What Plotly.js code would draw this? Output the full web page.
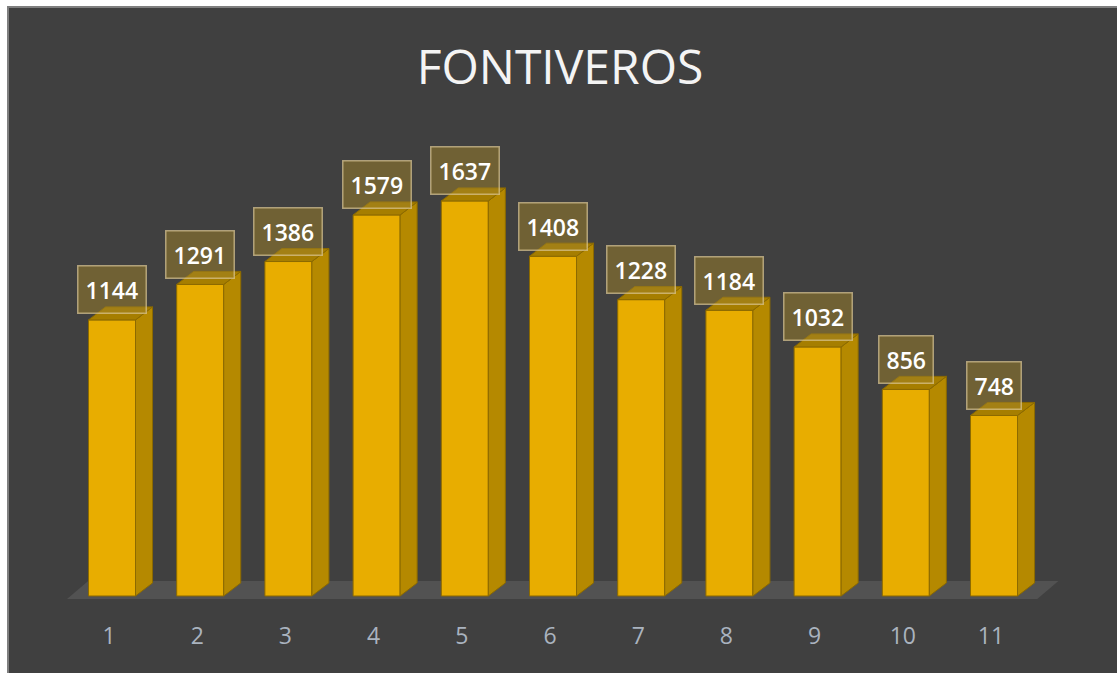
<!DOCTYPE html>
<html>
<head>
<meta charset="utf-8">
<script src="https://cdn.plot.ly/plotly-3.0.1.min.js"></script>
<style>
  html, body { margin: 0; padding: 0; background: #ffffff; width: 1117px; height: 673px; overflow: hidden; }
  #frame { position: absolute; left: 7px; top: 6px; width: 1110px; height: 667px; background: #7f7f7f; }
  #chart { position: absolute; left: 9px; top: 8px; width: 1108px; height: 665px; }
</style>
</head>
<body>
<div id="frame"></div>
<div id="chart"></div>
<script>
// ---- data ----
const categories = ["1", "2", "3", "4", "5", "6", "7", "8", "9", "10", "11"];
const values = [1144, 1291, 1386, 1579, 1637, 1408, 1228, 1184, 1032, 856, 748];
const chartTitle = "FONTIVEROS";

// ---- style ----
const FRONT = "#E8AD00";
const SIDE = "#B58900";
const TOP = "#A67E00";
const EDGE = "#8C6A00";
const BAR_W = 0.533;   // category units
const DEPTH_X = 0.193; // category units
const DEPTH_Y = 54;    // value units
const FONT = "Open Sans, Noto Sans, sans-serif";

const xs = categories.map((c, i) => i + 1);

const traces = [];
traces.push({
  type: "bar",
  x: xs,
  y: values,
  width: BAR_W,
  marker: { color: FRONT, line: { color: EDGE, width: 1 } },
  hoverinfo: "x+y",
  showlegend: false
});

xs.forEach((x, i) => {
  const v = values[i];
  const l = x - BAR_W / 2, r = x + BAR_W / 2;
  // side face
  traces.push({
    type: "scatter", mode: "lines", fill: "toself",
    x: [r, r + DEPTH_X, r + DEPTH_X, r, r],
    y: [0, DEPTH_Y, v + DEPTH_Y, v, 0],
    fillcolor: SIDE, line: { color: EDGE, width: 1 },
    hoverinfo: "skip", showlegend: false
  });
  // top face
  traces.push({
    type: "scatter", mode: "lines", fill: "toself",
    x: [l, r, r + DEPTH_X, l + DEPTH_X, l],
    y: [v, v, v + DEPTH_Y, v + DEPTH_Y, v],
    fillcolor: TOP, line: { color: EDGE, width: 1 },
    hoverinfo: "skip", showlegend: false
  });
});

const n = categories.length;
const annotations = xs.map((x, i) => ({
  x: x, y: values[i], xref: "x", yref: "y",
  text: String(values[i]),
  showarrow: false,
  yshift: 30,
  font: { family: FONT, size: 23, color: "#ffffff", weight: 600 },
  bgcolor: "rgba(160,130,40,0.5)",
  bordercolor: "rgba(220,200,150,0.7)",
  borderwidth: 1.5,
  borderpad: 7
}));

const layout = {
  width: 1108,
  height: 665,
  paper_bgcolor: "#404040",
  plot_bgcolor: "rgba(0,0,0,0)",
  margin: { l: 51, r: 57, t: 122, b: 53 },
  title: {
    text: chartTitle,
    x: 0.5, xref: "paper", xanchor: "center",
    y: 0.911, yref: "container", yanchor: "middle",
    font: { family: FONT, size: 48, color: "#f4f4f4" }
  },
  xaxis: {
    range: [0.4104, 11.748],
    tickmode: "array",
    tickvals: xs,
    ticktext: categories,
    showgrid: false, zeroline: false, showline: false,
    ticks: "",
    ticklabelshift: -3,
    tickfont: { family: FONT, size: 23, color: "#aab3bf" }
  },
  yaxis: {
    range: [-99.5, 1931],
    visible: false,
    showgrid: false, zeroline: false
  },
  shapes: [{
    type: "path", xref: "x", yref: "y", layer: "below",
    path: `M 0.49 -12 L ${n + 0.49} -12 L ${n + 0.73} 62 L 0.73 62 Z`,
    fillcolor: "#525252", line: { width: 0 }
  }],
  annotations: annotations,
  showlegend: false
};

Plotly.newPlot("chart", traces, layout, { displayModeBar: false, staticPlot: true });
</script>
</body>
</html>
